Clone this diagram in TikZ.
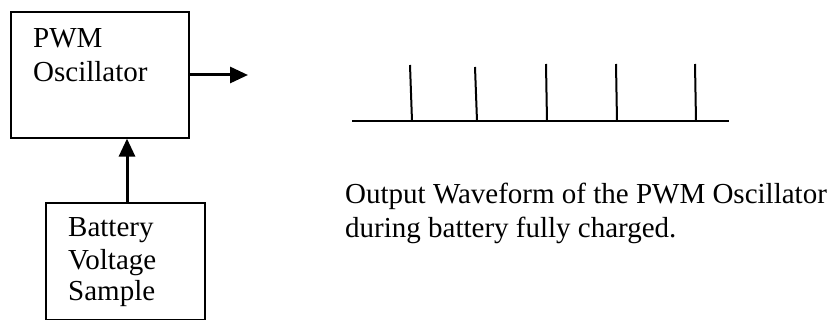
\documentclass[tikz,border=0pt]{standalone}
\usepackage{fontspec}
\setmainfont{Liberation Serif}
\usetikzlibrary{arrows.meta}
\begin{document}
\begin{tikzpicture}[x=1pt,y=-1pt,
  box/.style={draw,line width=1.6pt,inner sep=0pt,anchor=north west},
  lbl/.style={inner sep=0pt,anchor=base west,font=\fontsize{29pt}{34pt}\selectfont},
  arr/.style={line width=3pt,-{Triangle[length=18pt,width=16pt]}},
  wave/.style={line width=2pt}]
\useasboundingbox (0,0) rectangle (839,320);
% blocks
\node[box,minimum width=178pt,minimum height=126pt] (pwm) at (10,11) {};
\node[box,minimum width=159pt,minimum height=117pt] (batt) at (45,202) {};
% block texts
\node[lbl] (pwmA) at (33,48) {PWM};
\node[lbl] (pwmB) at (33,82) {Oscillator};
\node[lbl] (batA) at (68,237) {Battery};
\node[lbl] (batB) at (68,270) {Voltage};
\node[lbl] (batC) at (68,301) {Sample};
% connectors
\coordinate (out) at (248,75);
\draw[arr] (pwm.east |- out) -- (out);
\coordinate (up) at (127,202);
\draw[arr] (up) -- (up |- pwm.south);
% waveform
\coordinate (w0) at (352,121);
\coordinate (w1) at (729,121);
\draw[wave] (w0) -- (w1);
\foreach \xb/\xt/\yt in {412/410/65, 477/475/67, 547/546/64, 617/616/64, 696/695/64}
  \draw[wave] (\xb,121) -- (\xt,\yt);
% caption
\node[lbl] (capA) at (345,204) {Output Waveform of the PWM Oscillator};
\node[lbl] (capB) at (345,238) {during battery fully charged.};
\end{tikzpicture}
\end{document}
